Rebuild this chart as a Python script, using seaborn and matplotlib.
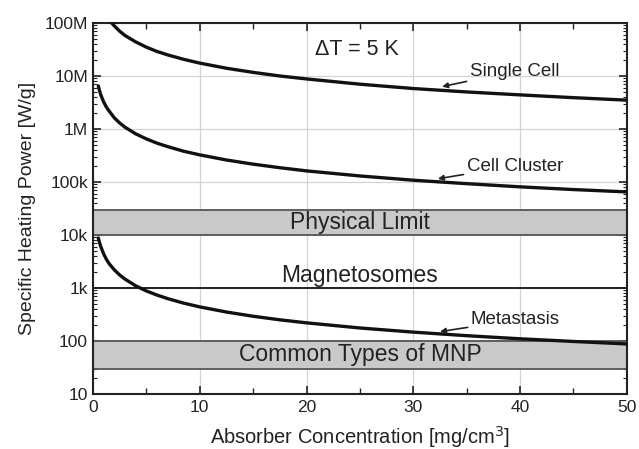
import matplotlib
matplotlib.use("Agg")
import matplotlib.pyplot as plt
import seaborn as sns
import pandas as pd
import numpy as np
from matplotlib.ticker import FixedLocator, FixedFormatter, LogLocator, NullFormatter, MultipleLocator

# --- data ---
conc_single = [1.75, 2, 2.5, 3, 4, 5, 6, 7, 8.5, 10, 12.5, 15, 17.5, 20, 25, 30, 35, 40, 45, 50]
power_single = [100e6, 88e6, 70e6, 58e6, 44e6, 35e6, 29e6, 25e6, 20.6e6, 17.5e6, 14e6, 11.7e6,
                10e6, 8.8e6, 7e6, 5.8e6, 5e6, 4.4e6, 3.9e6, 3.5e6]

conc_cluster = [0.5, 0.6, 0.75, 1, 1.25, 1.5, 2, 2.5, 3, 4, 5, 6, 7, 8.5, 10, 12.5, 15, 17.5, 20,
                25, 30, 35, 40, 45, 50]
power_cluster = [6.5e6, 5.4e6, 4.3e6, 3.25e6, 2.6e6, 2.2e6, 1.62e6, 1.3e6, 1.08e6, 810e3, 650e3,
                 540e3, 465e3, 380e3, 325e3, 260e3, 217e3, 186e3, 162e3, 130e3, 108e3, 93e3,
                 81e3, 72e3, 65e3]

conc_meta = [0.5, 0.6, 0.75, 1, 1.25, 1.5, 2, 2.5, 3, 4, 5, 6, 7, 8.5, 10, 12.5, 15, 17.5, 20,
             25, 30, 35, 40, 45, 50]
power_meta = [8.8e3, 7.3e3, 5.9e3, 4.4e3, 3.5e3, 2.9e3, 2.2e3, 1.76e3, 1.47e3, 1.1e3, 880, 735,
              630, 518, 440, 352, 293, 251, 220, 176, 147, 126, 110, 98, 88]

band_physical = [10e3, 30e3]
band_mnp = [30, 100]
magnetosome_level = 1e3

x_ticks = [0, 10, 20, 30, 40, 50]
y_ticks = [10, 100, 1e3, 1e4, 1e5, 1e6, 1e7, 1e8]
y_tick_labels = ["10", "100", "1k", "10k", "100k", "1M", "10M", "100M"]

# --- build frame ---
df = pd.concat([
    pd.DataFrame({"conc": conc_single, "power": power_single, "series": "Single Cell"}),
    pd.DataFrame({"conc": conc_cluster, "power": power_cluster, "series": "Cell Cluster"}),
    pd.DataFrame({"conc": conc_meta, "power": power_meta, "series": "Metastasis"}),
])

sns.set_style("ticks")
plt.rcParams["font.family"] = ["Liberation Sans", "DejaVu Sans"]

fig = plt.figure(figsize=(6.39, 4.49), dpi=100)
ax = fig.add_axes([0.1455, 0.1225, 0.981 - 0.1455, 0.9488 - 0.1225])

ax.set_yscale("log")
ax.set_xlim(0, 50)
ax.set_ylim(10, 1e8)

# grid
ax.grid(True, which="major", color="#d4d4d4", lw=0.9, zorder=0)
ax.set_axisbelow(True)

# bands
for lo, hi in (band_physical, band_mnp):
    ax.axhspan(lo, hi, facecolor="#c9c9c9", edgecolor="none", zorder=1)
    ax.axhline(lo, color="#555555", lw=1.3, zorder=2)
    ax.axhline(hi, color="#555555", lw=1.3, zorder=2)
ax.axhline(magnetosome_level, color="#222222", lw=1.4, zorder=2)

sns.lineplot(data=df, x="conc", y="power", units="series", estimator=None, sort=False,
             color="#111111", lw=2.4, ax=ax, zorder=3, legend=False)

# ticks
ax.xaxis.set_major_locator(FixedLocator(x_ticks))
ax.xaxis.set_minor_locator(MultipleLocator(5))
ax.yaxis.set_major_locator(FixedLocator(y_ticks))
ax.yaxis.set_major_formatter(FixedFormatter(y_tick_labels))
ax.yaxis.set_minor_locator(LogLocator(base=10, subs=np.arange(2, 10), numticks=20))
ax.yaxis.set_minor_formatter(NullFormatter())
ax.tick_params(which="both", direction="in", top=True, right=True, labelsize=12.5, colors="#222222")
ax.tick_params(which="major", length=6, width=1.2)
ax.tick_params(which="minor", length=3, width=0.8)
ax.tick_params(axis="x", which="minor", length=4, width=1.0)
ax.tick_params(axis="x", which="major", pad=4)
for s in ax.spines.values():
    s.set_linewidth(1.5)
    s.set_color("#222222")

ax.set_xlabel("Absorber Concentration [mg/cm$^3$]", fontsize=14.5, color="#222222", labelpad=7)
ax.set_ylabel("Specific Heating Power [W/g]", fontsize=14, color="#222222", labelpad=6)

# annotations
ax.text(20.8, 3.1e7, "\u0394T = 5 K", fontsize=15.5, color="#222222", va="center", ha="left")
ax.text(25, 1.73e4, "Physical Limit", fontsize=16.5, color="#222222", ha="center", va="center")
ax.text(25, 1.75e3, "Magnetosomes", fontsize=16.5, color="#222222", ha="center", va="center")
ax.text(25, 55, "Common Types of MNP", fontsize=16.5, color="#222222", ha="center", va="center")

arrow = dict(arrowstyle="-|>", color="#222222", lw=1.2, mutation_scale=8, shrinkA=0, shrinkB=0)
ax.annotate("Single Cell", xy=(32.7, 6.3e6), xytext=(35.3, 1.23e7), fontsize=13.5,
            color="#222222", va="center", ha="left", arrowprops=arrow)
ax.annotate("Cell Cluster", xy=(32.3, 1.15e5), xytext=(35.0, 2.0e5), fontsize=13.5,
            color="#222222", va="center", ha="left", arrowprops=arrow)
ax.annotate("Metastasis", xy=(32.5, 150), xytext=(35.4, 250), fontsize=13.5,
            color="#222222", va="center", ha="left", arrowprops=arrow)

fig.savefig("out.png", dpi=100)
